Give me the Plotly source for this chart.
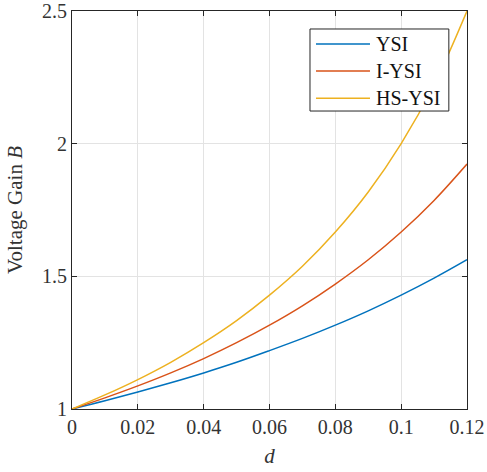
import plotly.graph_objects as go

d = [0.0, 0.01, 0.02, 0.03, 0.04, 0.05, 0.06, 0.07, 0.08, 0.09, 0.10, 0.11, 0.12]
ysi = [1.0, 1.031, 1.064, 1.099, 1.136, 1.176, 1.220, 1.266, 1.316, 1.370, 1.429, 1.493, 1.5625]
iysi = [1.0, 1.042, 1.087, 1.136, 1.190, 1.250, 1.316, 1.389, 1.471, 1.5625, 1.667, 1.786, 1.923]
hsysi = [1.0, 1.053, 1.111, 1.176, 1.250, 1.333, 1.429, 1.538, 1.667, 1.818, 2.0, 2.222, 2.5]

names = ["YSI", "I-YSI", "HS-YSI"]
colors = ["#0072BD", "#D95319", "#EDB120"]
xticks = [0, 0.02, 0.04, 0.06, 0.08, 0.1, 0.12]
xticklabels = ["0", "0.02", "0.04", "0.06", "0.08", "0.1", "0.12"]
yticks = [1, 1.5, 2, 2.5]
yticklabels = ["1", "1.5", "2", "2.5"]

font = "Liberation Serif"
fig = go.Figure()
for name, ys, c in zip(names, [ysi, iysi, hsysi], colors):
    fig.add_trace(go.Scatter(x=d, y=ys, name=name, mode="lines", showlegend=False,
                             line=dict(color=c, width=1.5, shape="spline")))

axis_common = dict(showline=True, linecolor="#262626", linewidth=1, mirror="ticks",
                   ticks="inside", ticklen=5, tickcolor="#262626", automargin=False,
                   showgrid=True, gridcolor="#e3e3e3", gridwidth=1, zeroline=False,
                   tickfont=dict(family=font, size=20, color="#333333"))

# manual legend (MATLAB style box with long line samples)
shapes = [dict(type="rect", xref="paper", yref="paper", x0=0.6025, x1=0.954,
               y0=0.7487, y1=0.9548, line=dict(color="#262626", width=1),
               fillcolor="white", layer="above")]
annotations = []
rows = [0.917, 0.849, 0.781]
for name, c, ry in zip(names, colors, rows):
    shapes.append(dict(type="line", xref="paper", yref="paper", x0=0.6177, x1=0.7544,
                       y0=ry, y1=ry, line=dict(color=c, width=1.5), layer="above"))
    annotations.append(dict(xref="paper", yref="paper", x=0.765, y=ry, text=name,
                            showarrow=False, xanchor="left", yanchor="middle",
                            font=dict(family=font, size=20, color="#111111")))

fig.update_layout(
    width=487, height=472,
    margin=dict(l=72, r=20, t=11, b=63),
    plot_bgcolor="white", paper_bgcolor="white",
    font=dict(family=font, color="#333333"),
    xaxis=dict(range=[0, 0.12], tickvals=xticks, ticktext=xticklabels,
               title=dict(text="<i>d</i>", font=dict(family=font, size=21), standoff=11),
               **axis_common),
    yaxis=dict(range=[1, 2.5], tickvals=yticks, ticktext=yticklabels,
               title=dict(text="Voltage Gain <i>B</i>", font=dict(family=font, size=21), standoff=13),
               **axis_common),
    shapes=shapes,
    annotations=annotations,
    showlegend=False,
)

fig.write_html("out.html")
